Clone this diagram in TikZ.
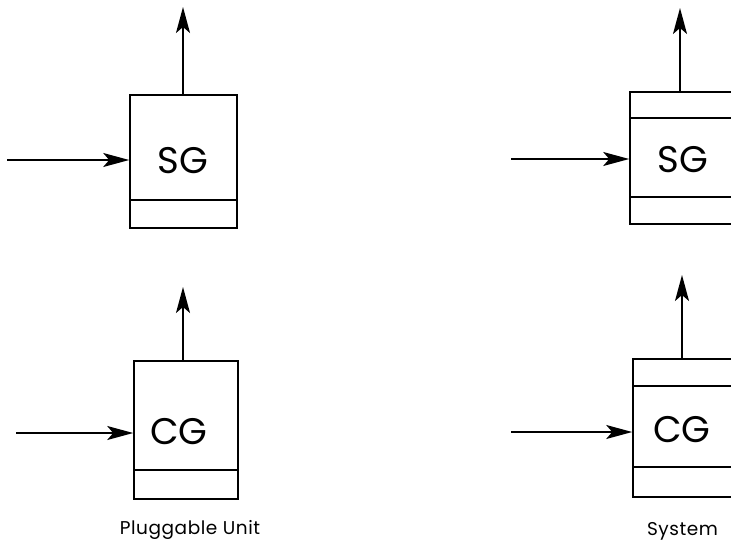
\documentclass[tikz,border=0pt]{standalone}
\usepackage{fontspec}
\setmainfont{Poppins}
\usetikzlibrary{arrows.meta}
\begin{document}
\begin{tikzpicture}[x=1pt,y=-1pt,line width=1.6pt,
  unitbox/.style={draw,inner sep=0pt,minimum width=107pt},
  arr/.style={-{Stealth[length=26pt,width=14pt,inset=6pt]}},
  big/.style={font=\fontsize{37}{40}\selectfont,inner sep=0pt},
  caption/.style={font=\addfontfeature{LetterSpace=3}\fontsize{18.5}{20}\selectfont,inner sep=0pt,anchor=base}]
\useasboundingbox (0,0) rectangle (731,546);
\clip (0,0) rectangle (731,546);
% left SG
\node[unitbox,minimum height=133pt] (sg1) at (183.5,161.5) {};
\draw (sg1.west |- 0,200) -- (sg1.east |- 0,200);
\node[big] (sgt1) at (183,161) {SG};
\coordinate (in1) at (7,160);
\coordinate (out1) at (183,7);
\draw[arr] (in1) -- (in1 -| sg1.west);
\draw[arr] (out1 |- sg1.north) -- (out1);
% left CG
\node[unitbox,minimum width=104pt,minimum height=138pt] (cg1) at (186,430) {};
\draw (cg1.west |- 0,470) -- (cg1.east |- 0,470);
\node[big] (cgt1) at (179,432) {CG};
\coordinate (in2) at (16,433);
\coordinate (out2) at (183,287);
\draw[arr] (in2) -- (in2 -| cg1.west);
\draw[arr] (out2 |- cg1.north) -- (out2);
\node[caption] (cap1) at (190,534) {Pluggable Unit};
% right SG
\node[unitbox,minimum height=132pt] (sg2) at (683.5,158) {};
\draw (sg2.west |- 0,118) -- (sg2.east |- 0,118);
\draw (sg2.west |- 0,197) -- (sg2.east |- 0,197);
\node[big] (sgt2) at (683,160) {SG};
\coordinate (in3) at (511,159);
\coordinate (out3) at (680,8);
\draw[arr] (in3) -- (in3 -| sg2.west);
\draw[arr] (out3 |- sg2.north) -- (out3);
% right CG
\node[unitbox,minimum height=138pt] (cg2) at (686.5,428) {};
\draw (cg2.west |- 0,386) -- (cg2.east |- 0,386);
\draw (cg2.west |- 0,467) -- (cg2.east |- 0,467);
\node[big] (cgt2) at (682,430) {CG};
\coordinate (in4) at (511,432);
\coordinate (out4) at (682,275);
\draw[arr] (in4) -- (in4 -| cg2.west);
\draw[arr] (out4 |- cg2.north) -- (out4);
\node[caption] (cap2) at (682.5,535.5) {System};
\end{tikzpicture}
\end{document}
